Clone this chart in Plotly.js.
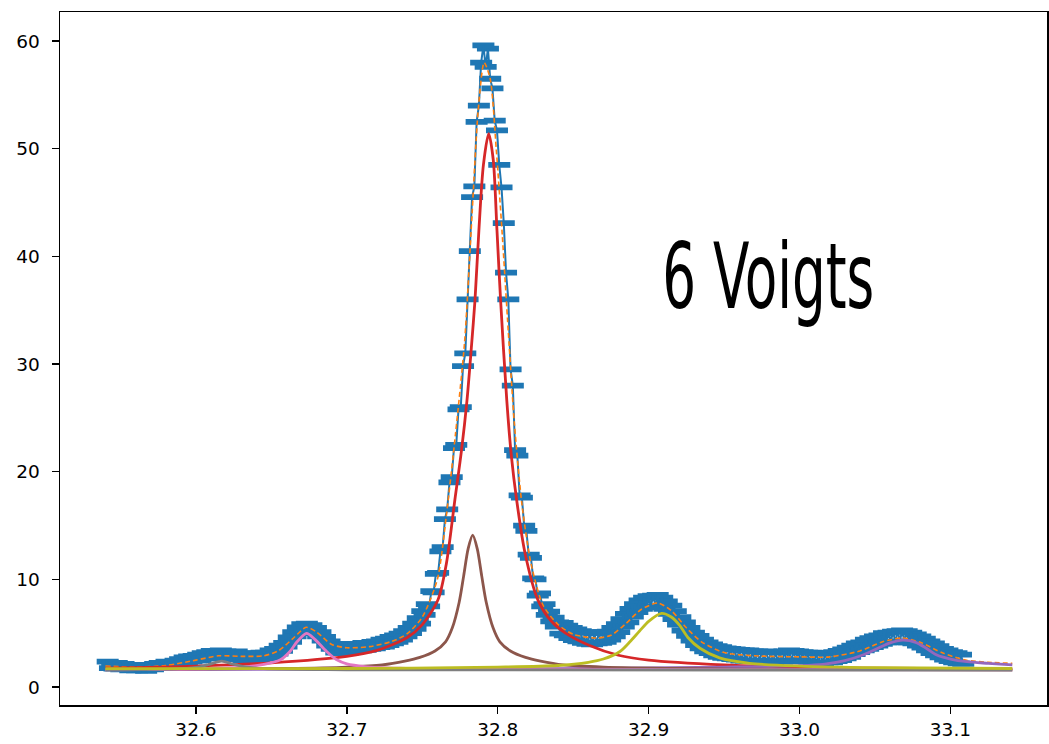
<!DOCTYPE html>
<html>
<head>
<meta charset="utf-8">
<script src="https://cdn.plot.ly/plotly-3.0.1.min.js"></script>
<style>
  html, body { margin: 0; padding: 0; background: #ffffff; }
  #chart { width: 1049px; height: 744px; }
</style>
</head>
<body>
<div id="chart"></div>
<script>
// Measured scan: 2-theta positions (deg) and counts
const twoTheta = [
  32.5415,32.5430,32.5445,32.5460,32.5475,32.5490,32.5505,32.5520,32.5535,32.5550,
  32.5565,32.5580,32.5595,32.5610,32.5625,32.5640,32.5655,32.5670,32.5685,32.5700,
  32.5715,32.5730,32.5745,32.5760,32.5775,32.5790,32.5805,32.5820,32.5835,32.5850,
  32.5865,32.5880,32.5895,32.5910,32.5925,32.5940,32.5955,32.5970,32.5985,32.6000,
  32.6015,32.6030,32.6045,32.6060,32.6075,32.6090,32.6105,32.6120,32.6135,32.6150,
  32.6165,32.6180,32.6195,32.6210,32.6225,32.6240,32.6255,32.6270,32.6285,32.6300,
  32.6315,32.6330,32.6345,32.6360,32.6375,32.6390,32.6405,32.6420,32.6435,32.6450,
  32.6465,32.6480,32.6495,32.6510,32.6525,32.6540,32.6555,32.6570,32.6585,32.6600,
  32.6615,32.6630,32.6645,32.6660,32.6675,32.6690,32.6705,32.6720,32.6735,32.6750,
  32.6765,32.6780,32.6795,32.6810,32.6825,32.6840,32.6855,32.6870,32.6885,32.6900,
  32.6915,32.6930,32.6945,32.6960,32.6975,32.6990,32.7005,32.7020,32.7035,32.7050,
  32.7065,32.7080,32.7095,32.7110,32.7125,32.7140,32.7155,32.7170,32.7185,32.7200,
  32.7215,32.7230,32.7245,32.7260,32.7275,32.7290,32.7305,32.7320,32.7335,32.7350,
  32.7365,32.7380,32.7395,32.7410,32.7425,32.7440,32.7455,32.7470,32.7485,32.7500,
  32.7515,32.7530,32.7545,32.7560,32.7575,32.7590,32.7605,32.7620,32.7635,32.7650,
  32.7665,32.7680,32.7695,32.7710,32.7725,32.7740,32.7755,32.7770,32.7785,32.7800,
  32.7815,32.7830,32.7845,32.7860,32.7875,32.7890,32.7905,32.7920,32.7935,32.7950,
  32.7965,32.7980,32.7995,32.8010,32.8025,32.8040,32.8055,32.8070,32.8085,32.8100,
  32.8115,32.8130,32.8145,32.8160,32.8175,32.8190,32.8205,32.8220,32.8235,32.8250,
  32.8265,32.8280,32.8295,32.8310,32.8325,32.8340,32.8355,32.8370,32.8385,32.8400,
  32.8415,32.8430,32.8445,32.8460,32.8475,32.8490,32.8505,32.8520,32.8535,32.8550,
  32.8565,32.8580,32.8595,32.8610,32.8625,32.8640,32.8655,32.8670,32.8685,32.8700,
  32.8715,32.8730,32.8745,32.8760,32.8775,32.8790,32.8805,32.8820,32.8835,32.8850,
  32.8865,32.8880,32.8895,32.8910,32.8925,32.8940,32.8955,32.8970,32.8985,32.9000,
  32.9015,32.9030,32.9045,32.9060,32.9075,32.9090,32.9105,32.9120,32.9135,32.9150,
  32.9165,32.9180,32.9195,32.9210,32.9225,32.9240,32.9255,32.9270,32.9285,32.9300,
  32.9315,32.9330,32.9345,32.9360,32.9375,32.9390,32.9405,32.9420,32.9435,32.9450,
  32.9465,32.9480,32.9495,32.9510,32.9525,32.9540,32.9555,32.9570,32.9585,32.9600,
  32.9615,32.9630,32.9645,32.9660,32.9675,32.9690,32.9705,32.9720,32.9735,32.9750,
  32.9765,32.9780,32.9795,32.9810,32.9825,32.9840,32.9855,32.9870,32.9885,32.9900,
  32.9915,32.9930,32.9945,32.9960,32.9975,32.9990,33.0005,33.0020,33.0035,33.0050,
  33.0065,33.0080,33.0095,33.0110,33.0125,33.0140,33.0155,33.0170,33.0185,33.0200,
  33.0215,33.0230,33.0245,33.0260,33.0275,33.0290,33.0305,33.0320,33.0335,33.0350,
  33.0365,33.0380,33.0395,33.0410,33.0425,33.0440,33.0455,33.0470,33.0485,33.0500,
  33.0515,33.0530,33.0545,33.0560,33.0575,33.0590,33.0605,33.0620,33.0635,33.0650,
  33.0665,33.0680,33.0695,33.0710,33.0725,33.0740,33.0755,33.0770,33.0785,33.0800,
  33.0815,33.0830,33.0845,33.0860,33.0875,33.0890,33.0905,33.0920,33.0935,33.0950,
  33.0965,33.0980,33.0995,33.1010,33.1025,33.1040,33.1055,33.1070,33.1085
];
const intensity = [
  2.35,1.75,2.2,1.7,2.25,1.8,1.65,2.15,1.7,2.0,
  1.55,2.05,1.65,1.55,2.05,1.6,1.9,1.5,2.0,1.7,
  1.65,2.15,1.75,2.25,1.8,2.0,2.35,1.85,2.3,1.95,
  2.45,2.05,2.6,2.2,2.75,2.25,2.85,2.35,2.9,2.45,
  3.0,2.5,3.15,2.65,3.25,2.7,3.35,2.65,3.3,2.8,
  3.4,2.75,3.3,2.7,3.25,2.85,2.65,3.3,2.6,3.1,
  2.5,3.1,2.6,2.45,3.15,2.55,3.1,2.6,3.2,2.65,
  3.2,2.7,3.4,2.85,3.55,3.1,3.85,3.35,4.1,3.75,
  4.6,4.2,5.1,4.7,5.55,5.0,5.85,5.3,5.9,5.4,
  5.75,5.05,5.5,4.7,5.1,4.3,4.65,3.85,4.25,3.55,
  3.95,3.2,3.9,3.15,3.85,3.3,3.2,4.0,3.25,3.9,
  3.35,4.0,3.4,4.1,3.45,4.1,3.55,4.2,3.6,4.25,
  3.7,4.4,3.75,4.5,3.9,4.65,4.05,4.8,4.2,4.95,
  4.4,5.2,4.7,5.5,5.0,5.9,5.4,6.4,5.9,7.05,
  6.7,7.7,7.5,8.9,8.8,10.5,10.6,12.6,13.0,15.6,
  16.5,19.0,19.5,22.2,22.5,25.8,26.0,29.8,31.0,36.0,
  40.5,45.5,46.5,52.5,54.0,58.0,59.6,57.6,59.3,56.5,
  55.6,52.6,51.7,48.5,46.4,43.1,38.5,36.0,29.5,28.0,
  22.0,21.5,17.8,17.6,15.0,14.5,12.3,12.0,10.1,10.0,
  8.5,8.7,7.5,7.7,6.7,7.0,6.1,6.45,5.6,6.0,
  4.95,5.95,4.8,5.7,4.55,5.5,4.35,5.35,4.25,5.2,
  4.1,5.05,4.0,5.1,3.95,5.0,4.05,5.05,4.1,5.1,
  4.2,5.15,4.4,5.5,4.7,5.85,5.1,6.3,5.6,6.8,
  6.0,7.25,6.55,7.7,6.95,8.05,7.25,8.3,7.45,8.45,
  7.5,8.5,7.5,8.55,7.4,8.3,7.25,7.95,6.8,7.55,
  6.3,7.05,5.8,6.5,5.25,6.0,4.75,5.5,4.3,5.05,
  3.9,4.75,3.6,4.4,3.3,4.15,3.15,3.95,2.95,3.8,
  2.8,3.7,2.7,3.6,2.65,3.55,2.6,3.5,2.55,3.45,
  2.45,3.4,2.45,3.4,2.4,3.3,2.4,3.3,2.45,3.25,
  2.4,3.3,2.35,3.25,2.3,3.25,2.4,3.2,2.35,3.3,
  2.45,3.4,2.4,3.35,2.5,3.3,2.45,3.25,2.4,3.2,
  2.35,3.2,2.25,3.15,2.25,3.1,2.2,3.15,2.3,3.1,
  2.3,3.25,2.4,3.35,2.5,3.5,2.65,3.65,2.8,3.85,
  3.05,4.05,3.25,4.15,3.4,4.4,3.55,4.55,3.7,4.7,
  3.85,4.8,4.0,5.0,4.15,5.05,4.2,5.15,4.15,5.2,
  4.25,5.25,4.2,5.2,4.15,5.05,4.05,4.9,3.85,4.7,
  3.65,4.5,3.4,4.25,3.15,4.05,2.95,3.8,2.75,3.55,
  2.55,3.4,2.4,3.25,2.3,3.15,2.2,3.0,2.15
];
const countError = 0.1;

// Total fitted profile (sum of six Voigts on a flat background)
const fitX = [32.540,32.560,32.580,32.600,32.615,32.630,32.645,32.655,32.665,32.673,32.680,32.690,32.700,32.715,32.730,32.740,32.750,32.760,32.766,32.772,32.778,32.783,32.787,32.791,32.795,32.799,32.803,32.807,32.811,32.816,32.822,32.830,32.840,32.850,32.865,32.875,32.885,32.895,32.906,32.915,32.925,32.935,32.950,32.970,33.000,33.020,33.040,33.055,33.068,33.080,33.095,33.110,33.125,33.141];
const fitTotal = [1.95,1.85,2.0,2.5,2.9,2.85,2.9,3.4,4.6,5.55,5.1,3.95,3.65,3.75,4.25,4.95,6.5,10.0,16.0,23.5,32.0,44.0,53.5,58.0,56.5,50.0,42.0,33.0,24.5,17.0,11.5,7.6,5.8,4.9,4.55,4.8,5.9,7.2,7.8,7.1,5.5,4.2,3.2,2.9,2.8,2.8,3.35,4.2,4.55,4.15,3.15,2.5,2.3,2.2];

// Individual Voigt components
const mainX = [32.540,32.600,32.650,32.700,32.720,32.740,32.750,32.7604,32.766,32.7716,32.776,32.7796,32.7825,32.7849,32.7875,32.7905,32.7940,32.7970,32.7995,32.8019,32.806,32.809,32.8125,32.818,32.8266,32.835,32.845,32.860,32.880,32.900,32.950,33.000,33.050,33.141];
const mainY = [1.75,1.95,2.25,2.85,3.4,4.6,5.8,8.1,11.5,17.4,22.0,26.6,31.5,35.9,42.4,48.5,51.4,49.0,42.4,35.9,26.6,21.5,17.4,12.5,8.1,6.2,5.0,3.9,2.95,2.5,2.05,1.85,1.75,1.68];

const shoulderX = [32.540,32.660,32.700,32.7234,32.7384,32.7484,32.7584,32.7654,32.7699,32.7744,32.7774,32.7804,32.7834,32.7864,32.7894,32.7924,32.7969,32.8014,32.8084,32.8184,32.8284,32.8434,32.870,32.920,33.000,33.141];
const shoulderY = [1.62,1.72,1.85,2.05,2.4,2.75,3.35,4.2,5.5,7.85,10.3,12.85,14.1,12.85,10.3,7.85,5.5,4.2,3.35,2.75,2.4,2.05,1.85,1.72,1.64,1.6];

const pinkX = [32.540,32.600,32.630,32.645,32.6557,32.6623,32.667,32.6733,32.679,32.6866,32.693,32.700,32.712,32.735,32.800,33.141];
const pinkY = [1.6,1.68,1.85,2.1,2.5,3.3,4.2,4.99,4.4,3.3,2.55,2.15,1.9,1.75,1.65,1.6];

const grayX = [32.540,32.590,32.603,32.610,32.617,32.624,32.632,32.645,32.700,33.141];
const grayY = [1.58,1.7,1.9,2.15,2.4,2.15,1.9,1.7,1.6,1.57];

const oliveX = [32.540,32.700,32.800,32.840,32.860,32.870,32.881,32.8876,32.894,32.900,32.9086,32.915,32.9207,32.926,32.934,32.947,32.967,33.000,33.050,33.141];
const oliveY = [1.7,1.72,1.85,2.0,2.3,2.6,3.3,4.2,5.2,6.1,6.84,6.5,5.7,4.6,3.6,2.7,2.2,1.95,1.8,1.72];

const purpleX = [32.540,32.800,32.950,33.000,33.0155,33.030,33.042,33.052,33.060,33.0685,33.077,33.084,33.091,33.100,33.111,33.125,33.141];
const purpleY = [1.62,1.68,1.85,1.98,2.1,2.45,2.97,3.6,4.1,4.36,4.15,3.6,2.97,2.6,2.35,2.2,2.05];

const xTicks = [32.6, 32.7, 32.8, 32.9, 33.0, 33.1];
const xTickText = ['32.6', '32.7', '32.8', '32.9', '33.0', '33.1'];
const yTicks = [0, 10, 20, 30, 40, 50, 60];
const yTickText = ['0', '10', '20', '30', '40', '50', '60'];

const caption = '6 Voigts';

function component(x, y, color) {
  return {
    x: x, y: y, type: 'scatter', mode: 'lines',
    line: { color: color, width: 2.8, shape: 'spline', smoothing: 0.8 },
    hoverinfo: 'skip'
  };
}

const traces = [
  {
    x: twoTheta, y: intensity, type: 'scatter', mode: 'lines',
    line: { color: '#1f77b4', width: 2 },
    error_y: { type: 'constant', value: countError, visible: true,
               color: '#1f77b4', thickness: 3.6, width: 11 }
  },
  {
    x: fitX, y: fitTotal, type: 'scatter', mode: 'lines',
    line: { color: '#ff7f0e', width: 1.6, dash: '5px,3px', shape: 'spline', smoothing: 0.7 }
  },
  component(mainX, mainY, '#d62728'),
  component(purpleX, purpleY, '#9467bd'),
  component(shoulderX, shoulderY, '#8c564b'),
  component(pinkX, pinkY, '#e377c2'),
  component(grayX, grayY, '#7f7f7f'),
  component(oliveX, oliveY, '#bcbd22')
];

const axisCommon = {
  showgrid: false, zeroline: false,
  showline: true, mirror: true, linecolor: '#000000', linewidth: 1.5,
  ticks: 'outside', ticklen: 7, tickwidth: 1.4, tickcolor: '#000000',
  tickfont: { family: 'DejaVu Sans, sans-serif', size: 18.5, color: '#000000' }
};

const layout = {
  width: 1049, height: 744, autosize: false,
  margin: { l: 60, r: 2, t: 12, b: 39 },
  paper_bgcolor: '#ffffff', plot_bgcolor: '#ffffff',
  showlegend: false,
  xaxis: Object.assign({}, axisCommon, {
    range: [32.5099, 33.164], tickmode: 'array', tickvals: xTicks, ticktext: xTickText
  }),
  yaxis: Object.assign({}, axisCommon, {
    range: [-1.67, 62.7], tickmode: 'array', tickvals: yTicks, ticktext: yTickText,
    ticklabelstandoff: 8
  }),
  annotations: [{
    xref: 'paper', yref: 'paper', x: 0.7183, y: 0.6185,
    xanchor: 'center', yanchor: 'middle', showarrow: false,
    text: caption,
    font: { family: 'Liberation Sans Narrow, DejaVu Sans Condensed, Liberation Sans, sans-serif', size: 91, color: '#000000' }
  }]
};

Plotly.newPlot('chart', traces, layout, { staticPlot: true }).then(function (gd) {
  // squeeze the caption into its narrow lettering
  const t = gd.querySelector('.annotation-text');
  if (t) {
    t.setAttribute('textLength', '212');
    t.setAttribute('lengthAdjust', 'spacingAndGlyphs');
  }
});
</script>
</body>
</html>
